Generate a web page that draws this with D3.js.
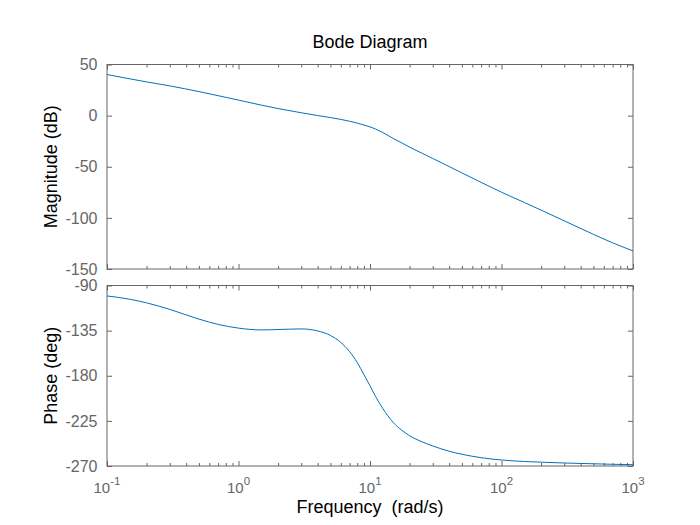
<!DOCTYPE html>
<html>
<head>
<meta charset="utf-8">
<script src="https://cdn.jsdelivr.net/npm/d3@7"></script>
<style>
    body { margin: 0; background: #fff; }
    text { font-family: "Liberation Sans", Arial, sans-serif; }
</style>
</head>
<body>
<svg id="chart" width="700" height="525"></svg>
<script>
// values
const freq = [0.1, 0.15, 0.2, 0.3, 0.5, 0.7, 1, 1.5, 2, 3, 4, 5, 6, 7, 8, 9, 10, 11, 12.5, 15,
    17.5, 20, 25, 30, 40, 50, 70, 100, 150, 200, 300, 500, 700, 1000];
const magnitude = [40.2, 35.9, 33.0, 29.1, 23.5, 19.5, 15.2, 10.2, 6.9, 2.8, 0.1, -1.9, -3.7, -5.5, -7.3, -9.2,
    -11.0, -13.1, -16.5, -22.3, -26.8, -30.8, -36.9, -41.9, -49.8, -56.0, -65.3, -74.9, -85.1, -92.4,
    -102.9, -116.1, -124.4, -132.3];
const phase = [-100.4, -103.8, -107.3, -113.8, -123.5, -128.8, -132.5, -134.3, -133.9, -133.3, -135.3, -139.8,
    -146.8, -156.0, -166.8, -179.0, -190.0, -200.5, -212.5, -226.5, -234.5, -239.8, -246.0, -250.0,
    -255.3, -258.3, -261.7, -264.0, -265.5, -266.2, -267.0, -267.8, -268.3, -268.7];

const freqTicks = [0.1, 1, 10, 100, 1000];
const freqExp = ["-1", "0", "1", "2", "3"];
const magTicks = [50, 0, -50, -100, -150];
const phaseTicks = [-90, -135, -180, -225, -270];

const svg = d3.select("#chart");
const left = 107, right = 633;
const axisColor = "#666666";
const lineColor = "#0072bd";

const x = d3.scaleLog().domain([0.1, 1000]).range([left, right]);
const minorTicks = x.ticks().filter(t => !freqTicks.includes(t));

const panels = [
    { values: magnitude, ticks: magTicks, domain: [-150, 50], top: 64.5, bottom: 269, label: "Magnitude (dB)" },
    { values: phase, ticks: phaseTicks, domain: [-270, -90], top: 285.5, bottom: 466, label: "Phase (deg)" }
];

panels.forEach((p, idx) => {
    const y = d3.scaleLinear().domain(p.domain).range([p.bottom, p.top]);
    const g = svg.append("g");

    // frame
    g.append("rect")
        .attr("x", left).attr("y", p.top)
        .attr("width", right - left).attr("height", p.bottom - p.top)
        .attr("fill", "none").attr("stroke", axisColor).attr("stroke-width", 1);

    // x ticks, inward on bottom and top
    [[d3.axisBottom, p.bottom], [d3.axisTop, p.top]].forEach(([ax, yy]) => {
        g.append("g")
            .attr("transform", `translate(0,${yy})`)
            .call(ax(x).tickValues(freqTicks).tickSize(-5).tickFormat(""))
            .call(s => s.select(".domain").remove())
            .call(s => s.selectAll("line").attr("stroke", axisColor));
        g.append("g")
            .attr("transform", `translate(0,${yy})`)
            .call(ax(x).tickValues(minorTicks).tickSize(-3).tickFormat(""))
            .call(s => s.select(".domain").remove())
            .call(s => s.selectAll("line").attr("stroke", axisColor));
    });

    // y ticks, inward on left and right
    const yl = g.append("g")
        .attr("transform", `translate(${left},0)`)
        .call(d3.axisLeft(y).tickValues(p.ticks).tickSizeInner(-5).tickSizeOuter(0)
            .tickPadding(9.5).tickFormat(d => String(d)))
        .call(s => s.select(".domain").remove());
    yl.selectAll("line").attr("stroke", axisColor);
    yl.selectAll("text")
        .attr("fill", axisColor)
        .attr("font-size", 16)
        .attr("font-family", "Liberation Sans, Arial, sans-serif");

    g.append("g")
        .attr("transform", `translate(${right},0)`)
        .call(d3.axisRight(y).tickValues(p.ticks).tickSize(-5).tickFormat(""))
        .call(s => s.select(".domain").remove())
        .call(s => s.selectAll("line").attr("stroke", axisColor));

    // curve
    const line = d3.line()
        .x((d, i) => x(freq[i]))
        .y(d => y(d))
        .curve(d3.curveMonotoneX);

    g.append("path")
        .datum(p.values)
        .attr("d", line)
        .attr("fill", "none")
        .attr("stroke", lineColor)
        .attr("stroke-width", 1);

    g.append("text")
        .text(p.label)
        .attr("text-anchor", "middle")
        .attr("transform", `translate(57, ${(p.top + p.bottom) / 2})rotate(-90)`)
        .attr("font-size", 18)
        .attr("fill", "#000");

    if (idx === 1) {
        const lab = g.selectAll(".xlab")
            .data(freqTicks)
            .enter()
            .append("text")
            .attr("class", "xlab")
            .attr("x", d => x(d))
            .attr("y", 493)
            .attr("text-anchor", "middle")
            .attr("fill", axisColor)
            .attr("font-size", 15);
        lab.append("tspan").text("10");
        lab.append("tspan")
            .attr("dy", -8)
            .attr("font-size", 11.5)
            .text((d, i) => freqExp[i]);
    }
});

svg.append("text")
    .text("Bode Diagram")
    .attr("x", (left + right) / 2)
    .attr("y", 47.5)
    .attr("text-anchor", "middle")
    .attr("font-size", 18)
    .attr("fill", "#000");

svg.append("text")
    .text("Frequency  (rad/s)")
    .attr("x", (left + right) / 2)
    .attr("y", 513)
    .attr("text-anchor", "middle")
    .attr("font-size", 18)
    .attr("fill", "#000")
    .style("white-space", "pre");
</script>
</body>
</html>
